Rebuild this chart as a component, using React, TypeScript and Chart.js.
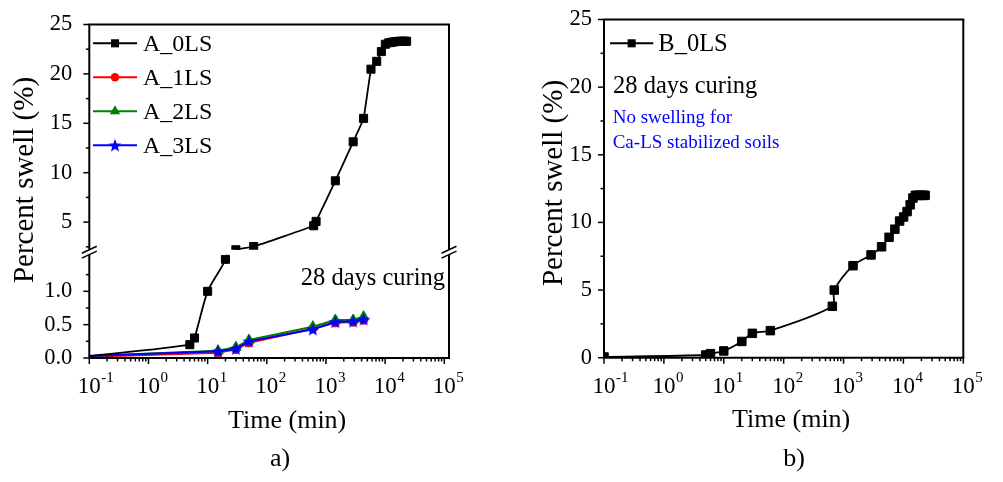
import React, { useEffect, useRef } from 'react';
import { Chart, registerables } from 'chart.js';

Chart.register(...registerables);

// ---------------- panel a) data ----------------
const timeA0LS = [0.1, 5, 6, 10, 20, 30, 60, 620, 680, 1440, 2880, 4320, 5760, 7200, 8640, 10080, 11520, 12960, 14400, 15840, 17280, 18720, 20160, 21600, 23040];
const swellA0LS = [0.03, 0.2, 0.3, 1.0, 1.48, 2.2, 2.53, 4.63, 5.07, 9.18, 13.13, 15.5, 20.48, 21.27, 22.26, 23.0, 23.15, 23.2, 23.25, 23.28, 23.3, 23.3, 23.3, 23.3, 23.3];
const timeALS = [0.1, 15, 30, 50, 600, 1440, 2880, 4320];
const swellA1LS = [0.02, 0.08, 0.13, 0.23, 0.44, 0.53, 0.54, 0.57];
const swellA2LS = [0.03, 0.11, 0.16, 0.27, 0.47, 0.57, 0.57, 0.62];
const swellA3LS = [0.03, 0.1, 0.14, 0.25, 0.43, 0.54, 0.55, 0.58];
const legendA = ['A_0LS', 'A_1LS', 'A_2LS', 'A_3LS'];

// ---------------- panel b) data ----------------
const timeB0LS = [0.1, 5, 6, 10, 20, 30, 60, 650, 700, 1440, 2880, 4320, 5760, 7200, 8640, 10080, 11520, 12960, 14400, 15840, 17280, 18720, 20160, 21600, 23040];
const swellB0LS = [0.05, 0.2, 0.3, 0.5, 1.2, 1.8, 2.0, 3.8, 5.0, 6.8, 7.6, 8.2, 8.9, 9.5, 10.1, 10.4, 10.8, 11.3, 11.8, 12.0, 12.0, 12.0, 12.0, 12.0, 12.0];
const legendB = ['B_0LS'];

// ---------------- axes ----------------
const xRangeA = [0.1, 1.2e5];
const xRangeB = [0.1, 1e5];
const xMajorTicks = [0.1, 1, 10, 100, 1000, 10000, 100000];
const xTickBase = '10';
const xTickExponents = ['-1', '0', '1', '2', '3', '4', '5'];
const xMinorTicks = xMajorTicks.slice(0, -1).flatMap((m) => [2, 3, 4, 5, 6, 7, 8, 9].map((k) => +(k * m).toPrecision(3)));

const yUpperRangeA = [2.2, 25];
const yUpperTicksA = [5, 10, 15, 20, 25];
const yUpperMinorA = [2.5, 7.5, 12.5, 17.5, 22.5];
const yLowerRangeA = [0, 1.55];
const yLowerTicksA = [0, 0.5, 1.0];
const yLowerLabelsA = ['0.0', '0.5', '1.0'];
const yLowerMinorA = [0.25, 0.75, 1.25];

const yRangeB = [0, 25];
const yTicksB = [0, 5, 10, 15, 20, 25];
const yMinorB = [2.5, 7.5, 12.5, 17.5, 22.5];

const xTitleText = 'Time (min)';
const yTitleText = 'Percent swell (%)';

// ---------------- styles ----------------
const SERIF = '"Liberation Serif", "Times New Roman", serif';
const BLACK = '#000000';
const RED = '#ff0000';
const GREEN = '#008000';
const BLUE = '#0000ff';

Chart.defaults.font.family = SERIF;
Chart.defaults.color = BLACK;

function toPoints(xs: number[], ys: number[]) {
  return xs.map((x, i) => ({ x, y: ys[i] }));
}

function makeStar(color: string, outer: number, inner: number): HTMLCanvasElement {
  const size = Math.ceil(outer * 2 + 2);
  const c = document.createElement('canvas');
  c.width = size;
  c.height = size;
  const ctx = c.getContext('2d')!;
  ctx.fillStyle = color;
  ctx.beginPath();
  for (let i = 0; i < 10; i++) {
    const r = i % 2 === 0 ? outer : inner;
    const a = -Math.PI / 2 + (i * Math.PI) / 5;
    const x = size / 2 + r * Math.cos(a);
    const y = size / 2 + 0.6 + r * Math.sin(a);
    if (i === 0) ctx.moveTo(x, y);
    else ctx.lineTo(x, y);
  }
  ctx.closePath();
  ctx.fill();
  return c;
}

function seg(ctx: CanvasRenderingContext2D, x1: number, y1: number, x2: number, y2: number) {
  ctx.beginPath();
  ctx.moveTo(x1, y1);
  ctx.lineTo(x2, y2);
  ctx.stroke();
}

function drawMarker(ctx: CanvasRenderingContext2D, style: any, r: number, x: number, y: number, color: string) {
  if (style && typeof style !== 'string') {
    ctx.drawImage(style, x - style.width / 2, y - style.height / 2);
    return;
  }
  ctx.fillStyle = color;
  ctx.beginPath();
  if (style === 'rect') {
    const s = r * Math.SQRT1_2;
    ctx.rect(x - s, y - s, 2 * s, 2 * s);
  } else if (style === 'triangle') {
    for (let k = 0; k < 3; k++) {
      const ang = (k * 2 * Math.PI) / 3;
      const px = x + Math.sin(ang) * r;
      const py = y - Math.cos(ang) * r;
      if (k === 0) ctx.moveTo(px, py);
      else ctx.lineTo(px, py);
    }
    ctx.closePath();
  } else {
    ctx.arc(x, y, r, 0, Math.PI * 2);
  }
  ctx.fill();
}

type TextItem = { text: string; x: number; y: number; size: number; color: string; align: CanvasTextAlign };
interface DecoCfg {
  sections: string[];
  yTicks: { axis: string; major: number[]; minor: number[] }[];
  legend: { labels: string[]; x0: number; x1: number; tx: number; y0: number; dy: number; size: number };
  texts: TextItem[];
  xTitle: { dx: number; dy: number; size: number };
  yTitle: { x: number; cy: number; size: number };
}

function decoPlugin(cfg: DecoCfg) {
  return {
    id: 'deco',
    beforeDatasetDraw(chart: any, args: any) {
      const ys = chart.scales[args.meta.yAxisID];
      const a = chart.chartArea;
      const ctx = chart.ctx as CanvasRenderingContext2D;
      ctx.save();
      ctx.beginPath();
      ctx.rect(a.left - 10, ys.top, a.right - a.left + 20, ys.bottom - ys.top);
      ctx.clip();
    },
    afterDatasetDraw(chart: any) {
      chart.ctx.restore();
    },
    afterDraw(chart: any) {
      const ctx = chart.ctx as CanvasRenderingContext2D;
      const a = chart.chartArea;
      const xs = chart.scales.x;
      ctx.save();
      ctx.strokeStyle = BLACK;
      ctx.fillStyle = BLACK;
      ctx.lineCap = 'butt';
      // frame
      ctx.lineWidth = 2;
      seg(ctx, a.left - 1, a.top, a.right + 1, a.top);
      seg(ctx, a.left - 1, a.bottom, a.right + 1, a.bottom);
      for (const id of cfg.sections) {
        const s = chart.scales[id];
        seg(ctx, a.left, s.top, a.left, s.bottom);
        seg(ctx, a.right, s.top, a.right, s.bottom);
      }
      // axis breaks
      ctx.lineWidth = 1.5;
      for (let i = 0; i < cfg.sections.length - 1; i++) {
        const yTop = chart.scales[cfg.sections[i]].bottom;
        const yBot = chart.scales[cfg.sections[i + 1]].top;
        for (const xx of [a.left, a.right]) {
          for (const yy of [yTop, yBot]) seg(ctx, xx - 7.5, yy + 3.5, xx + 7.5, yy - 3.5);
        }
      }
      // x ticks
      ctx.lineWidth = 1.5;
      for (const v of xMajorTicks) {
        const px = xs.getPixelForValue(v);
        seg(ctx, px, a.bottom, px, a.bottom + 6);
      }
      for (const v of xMinorTicks) {
        const px = xs.getPixelForValue(v);
        seg(ctx, px, a.bottom, px, a.bottom + 3.5);
      }
      // y ticks
      for (const t of cfg.yTicks) {
        const s = chart.scales[t.axis];
        for (const v of t.major) {
          const py = s.getPixelForValue(v);
          seg(ctx, a.left - 6, py, a.left, py);
        }
        for (const v of t.minor) {
          const py = s.getPixelForValue(v);
          seg(ctx, a.left - 3.5, py, a.left, py);
        }
      }
      // x tick labels (10^n)
      xMajorTicks.forEach((v, i) => {
        const px = xs.getPixelForValue(v);
        ctx.font = `23px ${SERIF}`;
        ctx.textAlign = 'center';
        ctx.textBaseline = 'alphabetic';
        const w = ctx.measureText(xTickBase).width;
        ctx.fillText(xTickBase, px, a.bottom + 35);
        ctx.font = `15px ${SERIF}`;
        ctx.textAlign = 'left';
        ctx.fillText(xTickExponents[i], px + w / 2 + 0.5, a.bottom + 24);
      });
      // axis titles
      ctx.font = `${cfg.xTitle.size}px ${SERIF}`;
      ctx.textAlign = 'center';
      ctx.fillText(xTitleText, (a.left + a.right) / 2 + cfg.xTitle.dx, a.bottom + cfg.xTitle.dy);
      ctx.save();
      ctx.translate(cfg.yTitle.x, cfg.yTitle.cy);
      ctx.rotate(-Math.PI / 2);
      ctx.font = `${cfg.yTitle.size}px ${SERIF}`;
      ctx.fillText(yTitleText, 0, 0);
      ctx.restore();
      // legend
      const lg = cfg.legend;
      lg.labels.forEach((label, i) => {
        const ds = chart.data.datasets.find((d: any) => d.label === label);
        if (!ds) return;
        const y = lg.y0 + i * lg.dy;
        ctx.strokeStyle = ds.borderColor;
        ctx.lineWidth = 2;
        seg(ctx, lg.x0, y, lg.x1, y);
        drawMarker(ctx, ds.pointStyle, ds.legendRadius, (lg.x0 + lg.x1) / 2, y, ds.borderColor);
        ctx.fillStyle = BLACK;
        ctx.font = `${lg.size}px ${SERIF}`;
        ctx.textAlign = 'left';
        ctx.textBaseline = 'alphabetic';
        ctx.fillText(label, lg.tx, y + lg.size * 0.33);
      });
      // free texts
      for (const t of cfg.texts) {
        ctx.fillStyle = t.color;
        ctx.font = `${t.size}px ${SERIF}`;
        ctx.textAlign = t.align;
        ctx.textBaseline = 'alphabetic';
        ctx.fillText(t.text, t.x, t.y);
      }
      ctx.restore();
    },
  };
}

const hiddenScale = (width: number) => ({
  type: 'linear',
  position: 'left',
  grid: { display: false },
  border: { display: false },
  ticks: { display: false },
  afterFit: (s: any) => {
    s.width = width;
  },
});

function yScale(range: number[], ticks: number[], labels: string[], width: number, pad: number, extra: any) {
  return {
    type: 'linear',
    position: 'left',
    min: range[0],
    max: range[1],
    grid: { display: false, drawTicks: true, tickLength: 6 },
    border: { display: false },
    ticks: {
      color: BLACK,
      padding: pad,
      font: { family: SERIF, size: 22.5 },
      callback: (_v: any, i: number) => labels[i],
    },
    afterBuildTicks: (s: any) => {
      s.ticks = ticks.map((value) => ({ value }));
    },
    afterFit: (s: any) => {
      s.width = width;
    },
    ...extra,
  };
}

function xScale(range: number[], height: number) {
  return {
    type: 'logarithmic',
    min: range[0],
    max: range[1],
    grid: { display: false },
    border: { display: false },
    ticks: { display: false },
    afterBuildTicks: (s: any) => {
      s.ticks = xMajorTicks.map((value) => ({ value }));
    },
    afterFit: (s: any) => {
      s.height = height;
    },
  };
}

const lineDefaults = {
  borderWidth: 2,
  pointBorderWidth: 1,
  tension: 0,
  clip: { left: 0, top: 6, right: 6, bottom: 6 },
};

function buildPanelA(): any {
  const star = makeStar(BLUE, 7, 2.9);
  const ptsA0 = toPoints(timeA0LS, swellA0LS);
  const cut = swellA0LS.findIndex((v) => v > yLowerRangeA[1]);
  const a0Lower = ptsA0.slice(0, cut + 1);
  const a0Upper = ptsA0.slice(cut - 1);
  const skipFirst = (r: number) => (c: any) => (c.dataIndex === 0 ? 0 : r);
  const black = { ...lineDefaults, borderColor: BLACK, backgroundColor: BLACK, pointStyle: 'rect', pointRadius: skipFirst(5.7), legendRadius: 5.7, borderWidth: 1.8, order: 0 };
  return {
    type: 'line',
    data: {
      datasets: [
        { ...black, label: 'A_0LS', data: a0Lower, yAxisID: 'yLow', tension: 0.25 },
        { ...black, label: 'A_0LS', data: a0Upper, yAxisID: 'yHigh', tension: 0.1 },
        { ...lineDefaults, label: 'A_1LS', data: toPoints(timeALS, swellA1LS), yAxisID: 'yLow', borderColor: RED, backgroundColor: RED, pointStyle: 'circle', pointRadius: skipFirst(4.3), legendRadius: 4.3, order: 3 },
        { ...lineDefaults, label: 'A_2LS', data: toPoints(timeALS, swellA2LS), yAxisID: 'yLow', borderColor: GREEN, backgroundColor: GREEN, pointStyle: 'triangle', pointRadius: skipFirst(6), legendRadius: 6, order: 2 },
        { ...lineDefaults, label: 'A_3LS', data: toPoints(timeALS, swellA3LS), yAxisID: 'yLow', borderColor: BLUE, backgroundColor: BLUE, pointStyle: star, pointRadius: skipFirst(6), legendRadius: 6, order: 1 },
      ],
    },
    options: {
      responsive: false,
      animation: false,
      events: [],
      layout: { padding: { top: 16, right: 51, bottom: 0, left: 0 } },
      plugins: { legend: { display: false }, tooltip: { enabled: false }, title: { display: false } },
      scales: {
        x: xScale(xRangeA, 124),
        yLow: yScale(yLowerRangeA, yLowerTicksA, yLowerLabelsA, 89.3, 11, { stack: 'left', stackWeight: 106 }),
        yGap: { ...hiddenScale(89.3), min: 0, max: 1, stack: 'left', stackWeight: 5 },
        yHigh: yScale(yUpperRangeA, yUpperTicksA, yUpperTicksA.map(String), 89.3, 11, { stack: 'left', stackWeight: 231 }),
      },
    },
    plugins: [
      decoPlugin({
        sections: ['yHigh', 'yLow'],
        yTicks: [
          { axis: 'yHigh', major: yUpperTicksA, minor: yUpperMinorA },
          { axis: 'yLow', major: yLowerTicksA, minor: yLowerMinorA },
        ],
        legend: { labels: legendA, x0: 93, x1: 137, tx: 143, y0: 43.3, dy: 34, size: 24 },
        texts: [
          { text: '28 days curing', x: 445, y: 285, size: 24.5, color: BLACK, align: 'right' },
          { text: 'a)', x: 280, y: 466, size: 26, color: BLACK, align: 'center' },
        ],
        xTitle: { dx: 18, dy: 70, size: 26 },
        yTitle: { x: 33, cy: 180, size: 29 },
      }),
    ],
  };
}

function buildPanelB(): any {
  return {
    type: 'line',
    data: {
      datasets: [
        { ...lineDefaults, label: 'B_0LS', data: toPoints(timeB0LS, swellB0LS), yAxisID: 'y', borderColor: BLACK, backgroundColor: BLACK, pointStyle: 'rect', pointRadius: 6, legendRadius: 5.7, borderWidth: 1.8, tension: 0.3 },
      ],
    },
    options: {
      responsive: false,
      animation: false,
      events: [],
      layout: { padding: { top: 16, right: 39.7, bottom: 0, left: 0 } },
      plugins: { legend: { display: false }, tooltip: { enabled: false }, title: { display: false } },
      scales: {
        x: xScale(xRangeB, 124.3),
        y: yScale(yRangeB, yTicksB, yTicksB.map(String), 104, 6, {}),
      },
    },
    plugins: [
      decoPlugin({
        sections: ['y'],
        yTicks: [{ axis: 'y', major: yTicksB, minor: yMinorB }],
        legend: { labels: legendB, x0: 110, x1: 153.3, tx: 158.3, y0: 43.3, dy: 34, size: 24.5 },
        texts: [
          { text: '28 days curing', x: 113, y: 92.5, size: 24.5, color: BLACK, align: 'left' },
          { text: 'No swelling for', x: 112.7, y: 123.3, size: 19, color: BLUE, align: 'left' },
          { text: 'Ca-LS stabilized soils', x: 112.7, y: 148.3, size: 19, color: BLUE, align: 'left' },
          { text: 'b)', x: 294, y: 466, size: 26, color: BLACK, align: 'center' },
        ],
        xTitle: { dx: 7.5, dy: 69, size: 26 },
        yTitle: { x: 61.5, cy: 183, size: 29 },
      }),
    ],
  };
}

function ChartCanvas({ build, left, width }: { build: () => any; left: number; width: number }) {
  const ref = useRef<HTMLCanvasElement | null>(null);
  useEffect(() => {
    if (!ref.current) return;
    const chart = new Chart(ref.current, build());
    return () => chart.destroy();
  }, [build]);
  return (
    <canvas
      ref={ref}
      width={width}
      height={482}
      style={{ position: 'absolute', left, top: 0, width, height: 482, display: 'block' }}
    />
  );
}

export default function App() {
  return (
    <div style={{ position: 'fixed', left: 0, top: 0, width: 1003, height: 482, background: '#ffffff', overflow: 'hidden' }}>
      <ChartCanvas build={buildPanelA} left={0} width={500} />
      <ChartCanvas build={buildPanelB} left={500} width={503} />
    </div>
  );
}
